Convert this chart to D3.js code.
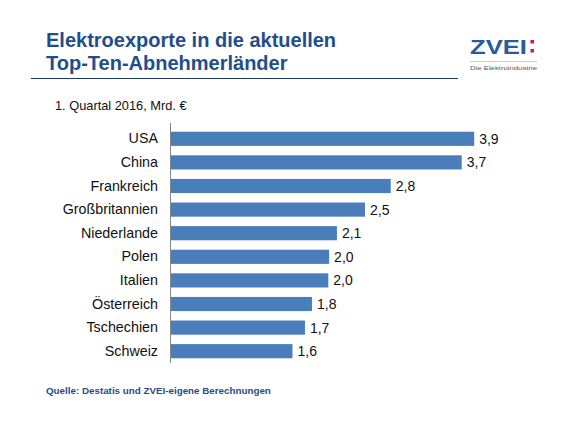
<html>
<head>
<style>
  body { margin: 0; background: #fff; }
  svg { font-family: "Liberation Sans", Arial, sans-serif; }
</style>
</head>
<body>
<svg></svg>
<script src="https://d3js.org/d3.v7.min.js"></script>
<script>
// chart data
const countries = ["USA", "China", "Frankreich", "Großbritannien", "Niederlande",
                   "Polen", "Italien", "Österreich", "Tschechien", "Schweiz"];
const exportsBn = [3.9, 3.74, 2.83, 2.5, 2.14, 2.04, 2.03, 1.82, 1.73, 1.57];

const titleLines = ["Elektroexporte in die aktuellen", "Top-Ten-Abnehmerländer"];
const subtitle = "1. Quartal 2016, Mrd. €";
const source = "Quelle: Destatis und ZVEI-eigene Berechnungen";

const width = 580, height = 435;
const blue = "#1f4e8c";

const svg = d3.select("svg")
    .attr("width", width)
    .attr("height", height);

// title
svg.selectAll(".title")
    .data(titleLines)
    .join("text")
    .attr("class", "title")
    .attr("x", 46)
    .attr("y", (d, i) => 47 + i * 23)
    .attr("fill", blue)
    .attr("font-size", 20)
    .attr("font-weight", "bold")
    .text(d => d);

svg.append("line")
    .attr("x1", 31).attr("x2", 458)
    .attr("y1", 78.5).attr("y2", 78.5)
    .attr("stroke", "#1d3a63")
    .attr("stroke-width", 1.2);

// logo
const logo = svg.append("g");
logo.append("text")
    .attr("x", 470).attr("y", 53.5)
    .attr("fill", "#2a5a9c")
    .attr("font-size", 21)
    .attr("font-weight", "bold")
    .attr("textLength", 57)
    .attr("lengthAdjust", "spacingAndGlyphs")
    .text("ZVEI");
logo.selectAll("rect")
    .data([40, 49])
    .join("rect")
    .attr("x", 530.5).attr("y", d => d)
    .attr("width", 3.5).attr("height", 3.5)
    .attr("fill", "#d4145a");
logo.append("line")
    .attr("x1", 470).attr("x2", 537)
    .attr("y1", 61.5).attr("y2", 61.5)
    .attr("stroke", "#b9c3d0").attr("stroke-width", 0.8);
logo.append("text")
    .attr("x", 470).attr("y", 69.5)
    .attr("fill", "#555")
    .attr("font-size", 6)
    .attr("textLength", 67)
    .attr("lengthAdjust", "spacingAndGlyphs")
    .text("Die Elektroindustrie");

// subtitle
svg.append("text")
    .attr("x", 55).attr("y", 110)
    .attr("font-size", 12.8)
    .attr("fill", "#111")
    .text(subtitle);

// scales
const x = d3.scaleLinear().domain([0, 4.5]).range([170, 521]);
const y = d3.scaleBand()
    .domain(countries)
    .range([127, 363])
    .paddingInner(0.4)
    .paddingOuter(0.2);

// bars
svg.selectAll(".bar")
    .data(countries)
    .join("rect")
    .attr("class", "bar")
    .attr("x", x(0))
    .attr("y", d => y(d))
    .attr("width", (d, i) => x(exportsBn[i]) - x(0))
    .attr("height", y.bandwidth())
    .attr("fill", "#4a7ebb");

// value labels
const fmt = d3.format(".1f");
svg.selectAll(".value")
    .data(countries)
    .join("text")
    .attr("class", "value")
    .attr("x", (d, i) => x(exportsBn[i]) + 5)
    .attr("y", d => y(d) + y.bandwidth() / 2)
    .attr("dy", "0.36em")
    .attr("font-size", 14)
    .attr("fill", "#111")
    .text((d, i) => fmt(exportsBn[i]).replace(".", ","));

// category axis
const axis = svg.append("g")
    .attr("transform", "translate(" + x(0) + ",0)")
    .call(d3.axisLeft(y).tickSize(0).tickPadding(12));
axis.select(".domain")
    .attr("d", "M0.5,123V363")
    .attr("stroke", "#868686");
axis.selectAll("text")
    .attr("font-family", "Liberation Sans, Arial, sans-serif")
    .attr("font-size", 14.3)
    .attr("fill", "#111");

// source
svg.append("text")
    .attr("x", 46).attr("y", 394)
    .attr("font-size", 9.8)
    .attr("font-weight", "bold")
    .attr("fill", blue)
    .text(source);
</script>
</body>
</html>
